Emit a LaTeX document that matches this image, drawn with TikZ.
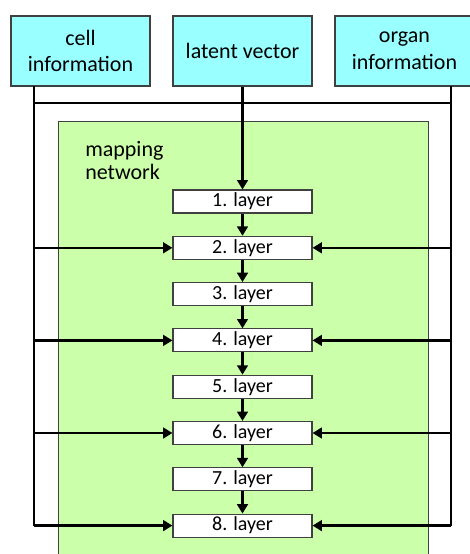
\documentclass[tikz,border=0pt]{standalone}
\usepackage{fontspec}
\setmainfont{Carlito}
\usetikzlibrary{arrows.meta}
\definecolor{inbox}{HTML}{99FFFF}
\definecolor{mapgreen}{HTML}{CCFFAA}
\definecolor{edge}{HTML}{404040}
\begin{document}
\begin{tikzpicture}[x=0.75pt,y=-0.75pt,
  inputbox/.style={draw=edge,line width=0.8pt,fill=inbox,minimum width=139*0.75pt,minimum height=70*0.75pt,
    inner sep=0pt,align=center,font=\fontsize{16.5pt}{20pt}\selectfont},
  layerbox/.style={draw=edge,line width=0.8pt,fill=white,minimum width=139*0.75pt,minimum height=23*0.75pt,
    inner sep=0pt,font=\fontsize{15pt}{17pt}\selectfont},
  wire/.style={line width=1.9pt},
  arr/.style={wire,-{Triangle[length=7pt,width=8pt]}}]
\useasboundingbox (0,0) rectangle (470,554);
\begin{scope}
\clip (0,0) rectangle (470,554);
% mapping network background
\node[draw=edge,line width=0.8pt,fill=mapgreen,minimum width=370*0.75pt,minimum height=450*0.75pt,inner sep=0pt,anchor=north west] (map) at (58,121) {};
\node[anchor=north west,align=left,inner sep=0pt,font=\fontsize{16.5pt}{17pt}\selectfont] (maplabel) at (85,141) {mapping\\network};
% inputs
\node[inputbox] (cell) at (80.5,51) {cell\\information};
\node[inputbox] (latent) at (242.5,51) {latent vector};
\node[inputbox] (organ) at (404.5,51) {organ\\information};
% layers
\foreach \i in {1,...,8} {
  \node[layerbox] (l\i) at (242.5,{201.5+(\i-1)*46.3}) {\i. layer};
}
% bus coordinates
\coordinate (cl) at (34,86);
\coordinate (cr) at (451,86);
\coordinate (bl) at (34,103);
\coordinate (br) at (451,103);
% connectors
\draw[wire] (bl) -- (br);
\draw[arr] (latent) -- (l1);
\foreach \i [count=\j from 2] in {1,...,7} {
  \draw[arr] (l\i) -- (l\j);
}
\draw[wire] (cl) -- (cl |- l8.west);
\draw[wire] (cr) -- (cr |- l8.east);
\foreach \i in {2,4,6,8} {
  \draw[arr] (cl |- l\i.west) -- (l\i.west);
  \draw[arr] (cr |- l\i.east) -- (l\i.east);
}
\end{scope}
\end{tikzpicture}
\end{document}
